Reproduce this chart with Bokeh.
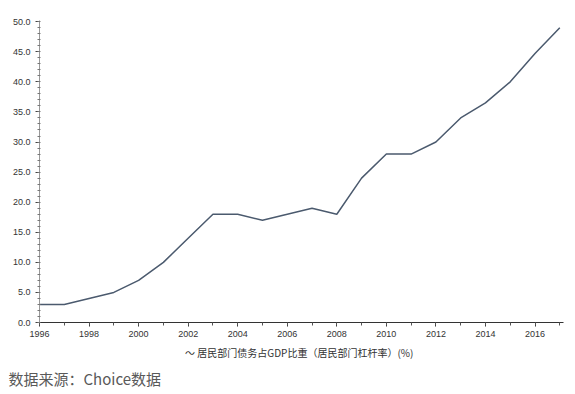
from bokeh.plotting import figure
from bokeh.models import (FixedTicker, NumeralTickFormatter, Range1d, Title)
from bokeh.embed import file_html
from bokeh.resources import INLINE

years = [1996, 1997, 1998, 1999, 2000, 2001, 2002, 2003, 2004, 2005, 2006,
         2007, 2008, 2009, 2010, 2011, 2012, 2013, 2014, 2015, 2016, 2017]
leverage = [3.0, 3.0, 4.0, 5.0, 7.0, 10.0, 14.0, 18.0, 18.0, 17.0, 18.0,
            19.0, 18.0, 24.0, 28.0, 28.0, 30.0, 34.0, 36.5, 40.0, 44.7, 49.0]
series_name = "居民部门债务占GDP比重（居民部门杠杆率）(%)"
source_text = "数据来源：Choice数据"
y_major = [0, 5, 10, 15, 20, 25, 30, 35, 40, 45, 50]
x_major = [1996, 1998, 2000, 2002, 2004, 2006, 2008, 2010, 2012, 2014, 2016]

p = figure(width=575, height=394, output_backend="svg", toolbar_location=None,
           x_range=Range1d(1996, 2017.15), y_range=Range1d(0, 50.2),
           min_border_left=39, min_border_right=12, min_border_top=20,
           min_border_bottom=72)
p.outline_line_color = None
p.grid.visible = False
p.background_fill_color = "white"
p.border_fill_color = "white"

r = p.line(years, leverage, line_color="#4b5a6e", line_width=1.5)

# y axis
ya = p.yaxis[0]
ya.ticker = FixedTicker(ticks=y_major, minor_ticks=list(range(0, 51)))
ya.formatter = NumeralTickFormatter(format="0.0")
ya.axis_line_color = "#999999"
ya.major_tick_line_color = "#444444"
ya.minor_tick_line_color = "#777777"
ya.major_tick_out = 4
ya.major_tick_in = 0
ya.minor_tick_out = 2
ya.minor_tick_in = 1
ya.major_label_text_font = "Liberation Sans"
ya.major_label_text_font_size = "9px"
ya.major_label_text_color = "#333333"
ya.major_label_standoff = 5

# x axis
xa = p.xaxis[0]
xa.ticker = FixedTicker(ticks=x_major, minor_ticks=years)
xa.axis_line_color = "#333333"
xa.major_tick_line_color = "#333333"
xa.minor_tick_line_color = "#555555"
xa.major_tick_out = 4
xa.major_tick_in = 0
xa.minor_tick_out = 3
xa.minor_tick_in = 0
xa.major_label_text_font = "Liberation Sans"
xa.major_label_text_font_size = "9px"
xa.major_label_text_color = "#333333"
xa.major_label_standoff = 4

legend_title = Title(text="～   " + series_name, align="center", offset=-8,
                     standoff=6, text_font="Noto Sans CJK SC",
                     text_font_size="10px", text_font_style="normal",
                     text_color="#333333")
p.add_layout(legend_title, "below")

src = Title(text=source_text, align="left", offset=-31, standoff=7,
            text_font="Noto Sans CJK SC", text_font_size="15px",
            text_font_style="normal", text_color="#595959")
p.add_layout(src, "below")

open("out.html", "w").write(file_html(p, INLINE))
